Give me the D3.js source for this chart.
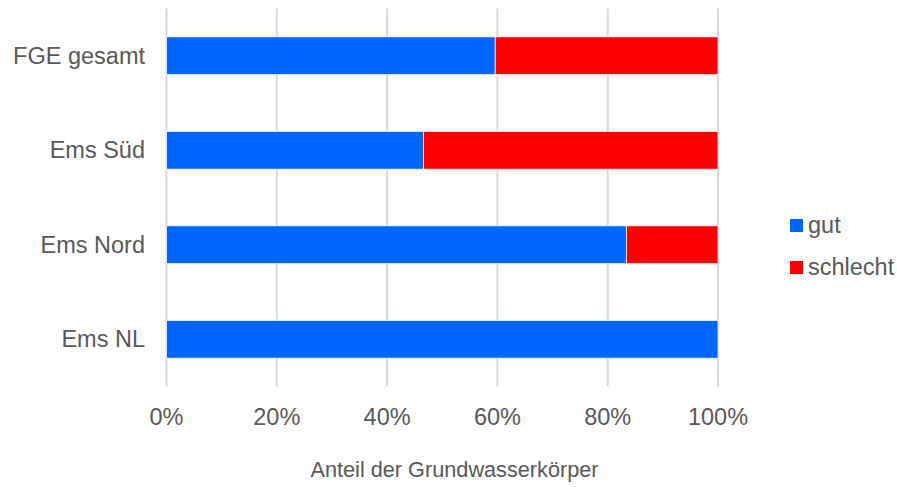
<!DOCTYPE html>
<html>
<head>
<meta charset="utf-8">
<script src="https://cdn.jsdelivr.net/npm/d3@7"></script>
<style>
  body { margin: 0; background: #fff; }
  text { font-family: "Liberation Sans", Arial, sans-serif; fill: #595959; }
</style>
</head>
<body>
<div id="container"></div>
<script>
const categories = ["FGE gesamt", "Ems Süd", "Ems Nord", "Ems NL"];
const seriesNames = ["gut", "schlecht"];
const gut = [59.6, 46.6, 83.4, 100];
const schlecht = [40.4, 53.4, 16.6, 0];
const tickValues = [0, 20, 40, 60, 80, 100];
const colors = ["#0066ff", "#ff0000"];

const width = 897, height = 487;
const plotLeft = 166.5, plotRight = 718, plotTop = 8.5, plotBottom = 386.5;

const rows = categories.map((c, i) => ({ cat: c, gut: gut[i], schlecht: schlecht[i] }));
const stack = d3.stack().keys(seriesNames)(rows);

let svg = d3.select("#container")
    .append("svg")
    .attr("width", width)
    .attr("height", height);

let xScale = d3.scaleLinear()
    .domain([0, 100])
    .range([plotLeft, plotRight]);

let yScale = d3.scaleBand()
    .domain(categories)
    .range([plotTop, plotBottom])
    .paddingInner(0.6)
    .paddingOuter(0.3);

// gridlines
svg.append("g")
    .selectAll("line")
    .data(tickValues)
    .enter()
    .append("line")
    .attr("x1", d => xScale(d))
    .attr("x2", d => xScale(d))
    .attr("y1", plotTop)
    .attr("y2", plotBottom)
    .attr("stroke", "#d9d9d9")
    .attr("stroke-width", 2);

// bars
svg.append("g")
    .selectAll("g")
    .data(stack)
    .enter()
    .append("g")
    .attr("fill", (d, i) => colors[i])
    .selectAll("rect")
    .data(d => d)
    .enter()
    .append("rect")
    .attr("x", d => xScale(d[0]))
    .attr("y", d => yScale(d.data.cat))
    .attr("width", d => xScale(d[1]) - xScale(d[0]))
    .attr("height", yScale.bandwidth())
    .attr("stroke", "#fff")
    .attr("stroke-width", d => (d[1] - d[0]) > 0 ? 0.75 : 0);

// x tick labels
svg.append("g")
    .selectAll("text")
    .data(tickValues)
    .enter()
    .append("text")
    .attr("x", d => xScale(d))
    .attr("y", 425)
    .attr("text-anchor", "middle")
    .style("font-size", "23.5px")
    .text(d => d + "%");

// y labels
svg.append("g")
    .selectAll("text")
    .data(categories)
    .enter()
    .append("text")
    .attr("x", 145)
    .attr("y", d => yScale(d) + yScale.bandwidth() / 2 + 8)
    .attr("text-anchor", "end")
    .style("font-size", "23.5px")
    .text(d => d);

// axis title
svg.append("text")
    .attr("x", 454.5)
    .attr("y", 477)
    .attr("text-anchor", "middle")
    .style("font-size", "21.7px")
    .text("Anteil der Grundwasserkörper");

// legend
let legend = svg.append("g")
    .selectAll("g")
    .data(seriesNames)
    .enter()
    .append("g")
    .attr("transform", (d, i) => "translate(790," + (219 + i * 42) + ")");

legend.append("rect")
    .attr("width", 13)
    .attr("height", 13)
    .attr("fill", (d, i) => colors[i]);

legend.append("text")
    .attr("x", 18)
    .attr("y", 14)
    .style("font-size", "23.5px")
    .text(d => d);
</script>
</body>
</html>
